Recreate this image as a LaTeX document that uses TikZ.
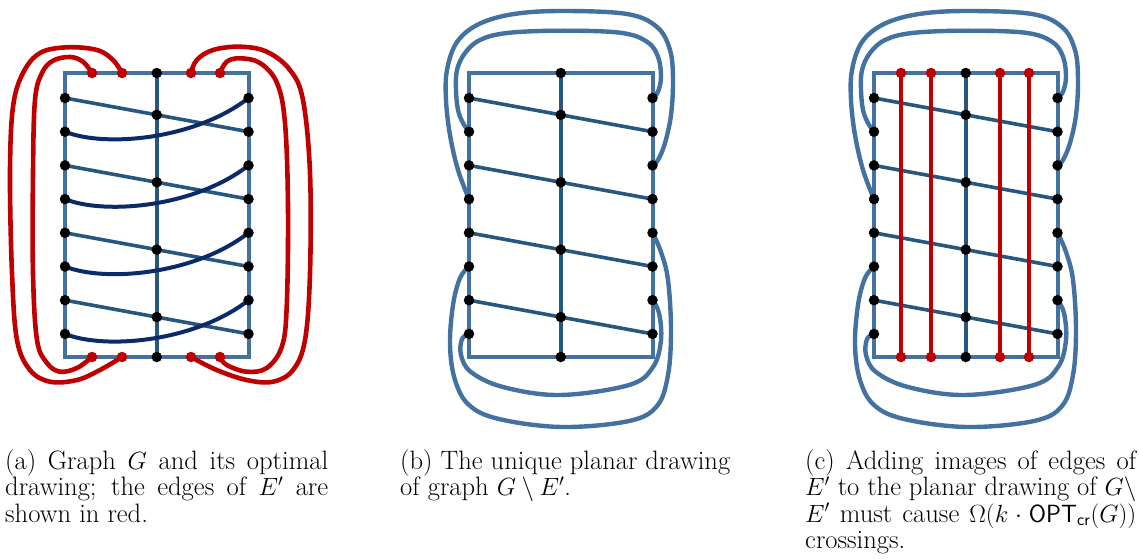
\documentclass[tikz,border=0pt]{standalone}
\usetikzlibrary{calc}
\definecolor{rectblue}{HTML}{4472A0}
\definecolor{diagblue}{HTML}{27567F}
\definecolor{navyc}{HTML}{0B2A6A}
\definecolor{redc}{HTML}{C00000}
\tikzset{
  rectline/.style={draw=rectblue,line width=4pt},
  diagline/.style={draw=diagblue,line width=3.6pt},
  navyline/.style={draw=navyc,line width=4pt},
  redline/.style={draw=redc,line width=4.6pt,line cap=round},
  loopline/.style={draw=rectblue,line width=4.4pt},
  dot/.style={circle,fill=black,inner sep=0pt,minimum size=10.5pt},
  reddot/.style={circle,fill=redc,inner sep=0pt,minimum size=10.5pt},
  captext/.style={anchor=base west,inner sep=0pt,align=left}
}
\newcommand{\capfont}{\fontsize{26.6}{26.5}\selectfont\setlength{\lineskiplimit}{-30pt}}
\newcommand{\mkcoords}[1]{%
  \coordinate (#1TL) at (0,73);
  \coordinate (#1BR) at (183.5,357);
  \coordinate (#1MT) at (91.75,73);
  \coordinate (#1MB) at (91.75,357);
  \foreach \i in {1,...,8}{%
    \coordinate (#1L\i) at (0,{98+(\i-1)*33.7});
    \coordinate (#1R\i) at (183.5,{98+(\i-1)*33.7});}
  \foreach \i/\j in {1/2,3/4,5/6,7/8}{%
    \coordinate (#1M\i) at ($(#1L\i)!0.5!(#1R\j)$);}
  \foreach \k/\xx in {1/27,2/57,3/126,4/155}{%
    \coordinate (#1T\k) at (\xx,73);
    \coordinate (#1B\k) at (\xx,357);}
}
\newcommand{\drawbase}[1]{%
  \draw[rectline] (#1TL) rectangle (#1BR);
  \draw[diagline] (#1MT) -- (#1MB);
  \foreach \i/\j in {1/2,3/4,5/6,7/8}{\draw[diagline] (#1L\i) -- (#1R\j);}
}
\newcommand{\drawdots}[1]{%
  \foreach \i in {1,...,8}{%
    \node[dot] (#1dL\i) at (#1L\i) {};
    \node[dot] (#1dR\i) at (#1R\i) {};}
  \foreach \i in {1,3,5,7}{\node[dot] (#1dM\i) at (#1M\i) {};}
  \node[dot] (#1dMT) at (#1MT) {};
  \node[dot] (#1dMB) at (#1MB) {};
}
\newcommand{\drawloops}[1]{%
  \draw[loopline] plot[smooth,tension=0.6] coordinates {(#1L2) (-6,123) (-11,110) (-13,90) (-12,70) (-4,53) (11,40) (38,33) (91,30.7) (151,32.7) (178,41.7) (189,56.7) (192,76.7) (189,91.7) (#1R1)};
  \draw[loopline] plot[smooth,tension=0.6] coordinates {(#1L4) (-11,170) (-19,135) (-23,100) (-22,70) (-12,42) (10,24) (45,14) (93,11) (158,14) (188,27) (201,50) (204,80) (202,115) (196,143) (189,160) (#1R3)};
  \draw[loopline] plot[smooth,tension=0.6] coordinates {(#1L8) (-7,339) (-8,355) (2,372) (34,387) (91,395) (160,385) (184,367) (192,340) (190,313) (#1R7)};
  \draw[loopline] plot[smooth,tension=0.6] coordinates {(#1L6) (-9,278) (-16,305) (-19,345) (-14,380) (0,405) (30,419) (93,427) (160,421) (188,406) (199,375) (202,330) (199,280) (192,252) (#1R5)};
}
\begin{document}
\begin{tikzpicture}[x=1pt,y=-1pt]
\useasboundingbox (0,0) rectangle (1139,558);
% ---------------- panel (a)
\begin{scope}[xshift=65pt]
  \mkcoords{a}
  \drawbase{a}
  \foreach \i/\j in {2/1,4/3,6/5,8/7}{%
    \draw[navyline] (aL\i) .. controls ($(aL\i)+(40,16)$) and ($(aL\i)+(130,8)$) .. (aR\j);}
  \draw[redline] plot[smooth,tension=0.6] coordinates {(aT1) (18,61.7) (5,57) (-12,60.7) (-23,73) (-30,100) (-32,173) (-32,273) (-28,340) (-18,363) (-5,371.7) (12,368) (aB1)};
  \draw[redline] plot[smooth,tension=0.6] coordinates {(aT2) (48,60) (32,50) (2,47.3) (-25,53) (-42,73) (-52,107) (-55,173) (-53,273) (-48,340) (-35,370) (-15,381.7) (12,380) (35,370) (aB2)};
  \draw[redline] plot[smooth,tension=0.6] coordinates {(aT4) (161.7,61.7) (175,58.3) (195,63) (212,83) (220,123) (223,207) (221.7,307) (216.7,347) (201.7,368) (181.7,371.7) (161.7,365) (aB4)};
  \draw[redline] plot[smooth,tension=0.6] coordinates {(aT3) (131.7,60) (148,50) (175,46.7) (201.7,51.7) (225,70) (238,100) (245,173) (245,273) (240,340) (228,370) (208,381.7) (181.7,380) (151.7,370) (aB3)};
  \drawdots{a}
  \foreach \k in {1,...,4}{%
    \node[reddot] (adT\k) at (aT\k) {};
    \node[reddot] (adB\k) at (aB\k) {};}
\end{scope}
% ---------------- panel (b)
\begin{scope}[xshift=469pt]
  \mkcoords{b}
  \drawbase{b}
  \drawloops{b}
  \drawdots{b}
\end{scope}
% ---------------- panel (c)
\begin{scope}[xshift=874pt]
  \mkcoords{c}
  \drawbase{c}
  \drawloops{c}
  \foreach \k in {1,...,4}{\draw[redline] (cT\k) -- (cB\k);}
  \drawdots{c}
  \foreach \k in {1,...,4}{%
    \node[reddot] (cdT\k) at (cT\k) {};
    \node[reddot] (cdB\k) at (cB\k) {};}
\end{scope}
% ---------------- captions
\node[captext] (capa) at (5,469) {\parbox[t]{323pt}{\capfont
 (a) Graph $G$ and its optimal\linebreak drawing; the edges of $E'$ are\linebreak shown in red.}};
\node[captext] (capb) at (400,469) {\parbox[t]{330pt}{\capfont
 (b) The unique planar drawing\linebreak of graph $G\setminus E'$.}};
\node[captext] (capc) at (805,469) {\parbox[t]{331pt}{\capfont
 (c) Adding images of edges of\linebreak $E'$ to the planar drawing of $G\setminus$\linebreak $E'$ must cause $\Omega(k\cdot\mathsf{OPT}_{\mathsf{cr}}(G))$\linebreak crossings.}};
\end{tikzpicture}
\end{document}
